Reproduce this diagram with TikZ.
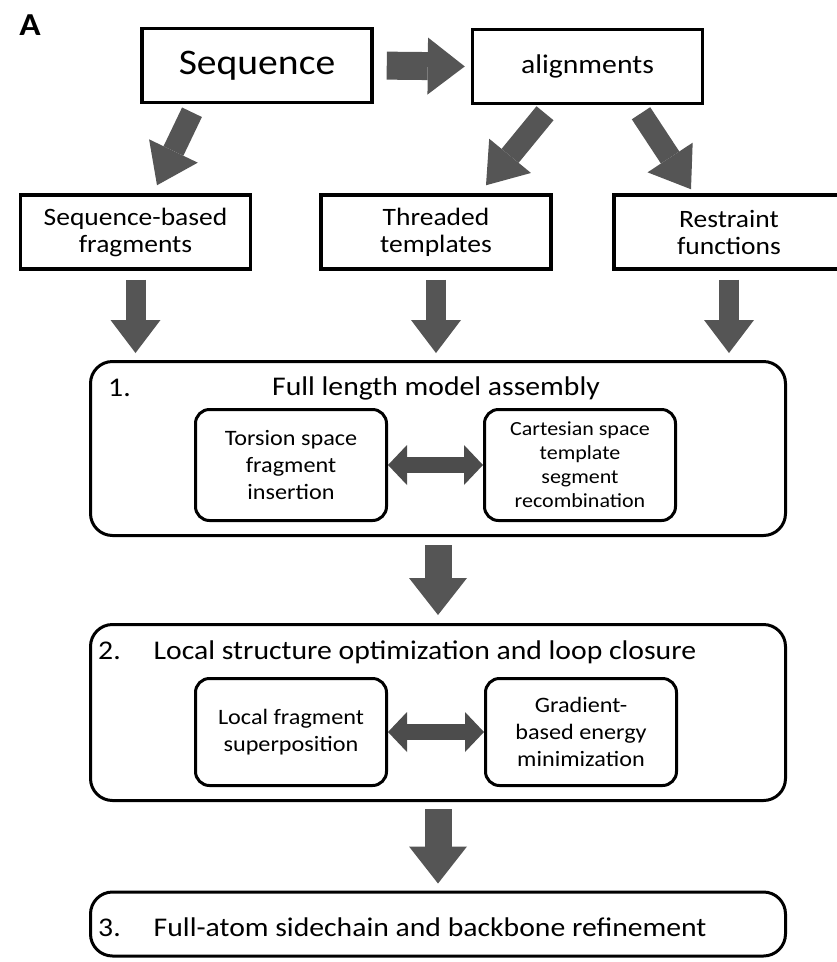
\documentclass[tikz,border=0pt]{standalone}
\usepackage{fontspec}
\setmainfont{Carlito}[FakeStretch=1.1]
\usepackage{tikz}
\usetikzlibrary{arrows.meta,
                positioning}
\definecolor{arrowgray}{HTML}{555555}
\tikzset{
        base/.style={draw, align=center, inner sep=0pt},
        proc/.style={base, line width=3.5pt, minimum width=230pt,
                     minimum height=74pt, font=\fontsize{25}{27}\selectfont},
        stage/.style={base, line width=3pt, rounded corners=22pt,
                      minimum width=695pt},
        sub/.style={base, line width=3pt, rounded corners=14pt,
                    minimum width=191pt, font=\fontsize{22}{27}\selectfont},
        title/.style={inner sep=0pt, font=\fontsize{27}{30}\selectfont},
        myarrow/.style={arrowgray, line cap=butt},
        downarrow/.style={myarrow, line width=20pt,
                          -{Triangle[length=33pt, width=50pt, line width=0pt]}},
        diagarrow/.style={myarrow, line width=22pt,
                          -{Triangle[length=38pt, width=54pt, line width=0pt]}},
        bigarrow/.style={myarrow, line width=27pt,
                         -{Triangle[length=37pt, width=58pt, line width=0pt]}},
        twoway/.style={myarrow, line width=16pt, arrowgray!90!black,
                       {Triangle[length=19pt, width=40pt, line width=0pt]}-{Triangle[length=19pt, width=40pt, line width=0pt]}},
 }

\begin{document}
\begin{tikzpicture}[x=1pt, y=-1pt]
    \useasboundingbox (0,0) rectangle (837,962);

    \node[inner sep=0pt, font=\bfseries\fontsize{32}{36}\selectfont] (lab) at (30,25) {A};

    \node[proc, font=\fontsize{36}{40}\selectfont] (seq) at (257,65.5) {Sequence};
    \node[proc, font=\fontsize{27}{30}\selectfont] (aln) at (587.5,66.5) {alignments};

    \node[proc] (frag) at (135.5,232) {Sequence-based\\fragments};
    \node[proc] (thr) at (436,232) {Threaded\\templates};
    \node[proc] (restr) at (729,232) {Restraint\\functions};

    \node[stage, minimum height=174pt] (st1) at (438,448.5) {};
    \node[title, anchor=west] (st1num) at (108,388) {1.};
    \node[title] (st1name) at (436,388) {Full length model assembly};
    \node[sub, minimum height=111pt] (tors) at (291,465) {Torsion space\\fragment\\insertion};
    \node[sub, minimum height=111pt, font=\fontsize{20}{24}\selectfont] (cart) at (580,465)
        {Cartesian space\\template\\segment\\recombination};

    \node[stage, minimum height=176pt] (st2) at (438,712.5) {};
    \node[title, anchor=west] (st2name) at (98,652)
        {2.\hspace{33pt}Local structure optimization and loop closure};
    \node[sub, minimum height=107pt] (locf) at (291,732) {Local fragment\\superposition};
    \node[sub, minimum height=107pt] (grad) at (581,732) {Gradient-\\based energy\\minimization};

    \node[stage, minimum height=64pt] (st3) at (438,924) {};
    \node[title, anchor=west] (st3name) at (98,927)
        {3.\hspace{33pt}Full-atom sidechain and backbone refinement};

    \draw[bigarrow, line width=28pt, -{Triangle[length=37pt, width=57pt, line width=0pt]},
          shorten <=13pt, shorten >=6pt] (seq.east) -- (aln.west);

    \draw[diagarrow] ([xshift=-65pt, yshift=-8pt]seq.south) -- ([xshift=21.5pt, yshift=8pt]frag.north);
    \draw[diagarrow] ([xshift=-42.5pt, yshift=-8pt]aln.south) -- ([xshift=50pt, yshift=8pt]thr.north);
    \draw[diagarrow] ([xshift=53.5pt, yshift=-8pt]aln.south) -- ([xshift=-38pt, yshift=4pt]restr.north);

    \draw[downarrow, shorten <=9pt, shorten >=7pt] (frag.south) -- (frag.south |- st1.north);
    \draw[downarrow, shorten <=9pt, shorten >=7pt] (thr.south) -- (thr.south |- st1.north);
    \draw[downarrow, shorten <=9pt, shorten >=7pt] (restr.south) -- (restr.south |- st1.north);

    \draw[twoway] (tors.east) -- (cart.west);
    \draw[twoway] (locf.east) -- (grad.west);

    \draw[bigarrow, shorten <=8pt, shorten >=8pt] (st1.south) -- (st2.north);
    \draw[bigarrow, shorten <=7pt, shorten >=7pt] (st2.south) -- (st3.north);
\end{tikzpicture}
\end{document}
